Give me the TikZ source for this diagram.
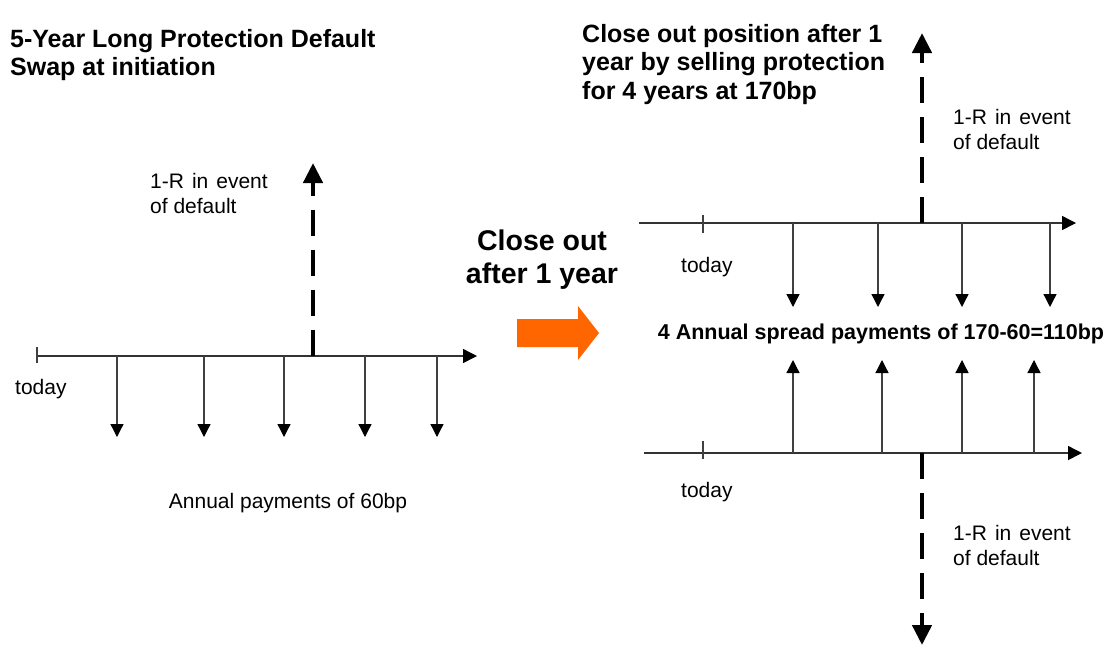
\documentclass[tikz,border=0pt]{standalone}
\usepackage{fontspec}
\setmainfont{Liberation Sans}
\usetikzlibrary{arrows.meta}
\definecolor{orangec}{HTML}{FF6600}
\begin{document}
\begin{tikzpicture}[x=1pt,y=-1pt,
  thinarrow/.style={draw=black!75, line width=1.3pt, -{Triangle[length=13pt,width=13pt,color=black]}},
  timeline/.style={draw=black!80, line width=1.5pt, -{Triangle[length=14pt,width=14pt,color=black]}},
  tickmark/.style={draw=black!75, line width=1.3pt},
  dasharrow/.style={draw=black, line width=4.5pt, dash pattern=on 26pt off 14pt, -{Triangle[length=20pt,width=19pt]}},
  lbl/.style={font=\fontsize{21}{25}\selectfont, inner sep=0pt},
  ttl/.style={font=\fontsize{25}{28.5}\selectfont\bfseries, inner sep=0pt},
  big/.style={font=\fontsize{28.5}{33}\selectfont\bfseries, inner sep=0pt},
  mid/.style={font=\fontsize{21.5}{25}\selectfont\bfseries, inner sep=0pt}
]
\useasboundingbox (0,0) rectangle (1110,657);

% ---------- left diagram ----------
\node[ttl, anchor=base west] (ltitle) at (10,47)
  {\begin{tabular}[t]{@{}l@{}}5-Year Long Protection Default\\Swap at initiation\end{tabular}};

\coordinate (lstart) at (37,356);
\coordinate (lend) at (477,356);
\coordinate (ltka) at (37,347);
\coordinate (ltkb) at (37,363);
\draw[timeline] (lstart) -- (lend);
\draw[tickmark] (ltka) -- (ltkb);
\foreach \i/\x in {1/117,2/204,3/284,4/365,5/437}{
  \coordinate (lp\i s) at (\x,356);
  \coordinate (lp\i e) at (\x,437);
  \draw[thinarrow] (lp\i s) -- (lp\i e);
}
\coordinate (ldefs) at (313,356);
\coordinate (ldefe) at (313,163);
\draw[dasharrow] (ldefs) -- (ldefe);

\node[lbl, anchor=base west] (ldef) at (150,188)
  {\begin{tabular}[t]{@{}l@{}}1-R\hspace{8pt}in\hspace{8pt}event\\of default\end{tabular}};
\node[lbl, anchor=base west] (ltoday) at (15,394) {today};
\node[lbl, anchor=base] (lpay) at (288,508) {Annual payments of 60bp};

% ---------- middle ----------
\node[big, anchor=base] (close) at (542,250)
  {\begin{tabular}[t]{@{}c@{}}Close out\\after 1 year\end{tabular}};
\fill[orangec] (517,319) -- (578,319) -- (578,306) -- (599,333) -- (578,360) -- (578,347) -- (517,347) -- cycle;

% ---------- right diagram ----------
\node[ttl, anchor=base west] (rtitle) at (582,42)
  {\begin{tabular}[t]{@{}l@{}}Close out position after 1\\year by selling protection\\for 4 years at 170bp\end{tabular}};

% top timeline
\coordinate (tstart) at (639,223);
\coordinate (tend) at (1076,223);
\coordinate (ttka) at (703,215);
\coordinate (ttkb) at (703,233);
\draw[timeline] (tstart) -- (tend);
\draw[tickmark] (ttka) -- (ttkb);
\foreach \i/\x in {1/793,2/878,3/962,4/1050}{
  \coordinate (tp\i s) at (\x,223);
  \coordinate (tp\i e) at (\x,307);
  \draw[thinarrow] (tp\i s) -- (tp\i e);
}
\coordinate (tdefs) at (922,223);
\coordinate (tdefe) at (922,33);
\draw[dasharrow] (tdefs) -- (tdefe);
\node[lbl, anchor=base west] (tdef) at (953,124)
  {\begin{tabular}[t]{@{}l@{}}1-R\hspace{8pt}in\hspace{8pt}event\\of default\end{tabular}};
\node[lbl, anchor=base west] (ttoday) at (681,272) {today};

\node[mid, anchor=base] (spread) at (881,339) {4 Annual spread payments of 170-60=110bp};

% bottom timeline
\coordinate (bstart) at (644,453);
\coordinate (bend) at (1082,453);
\coordinate (btka) at (703,441);
\coordinate (btkb) at (703,459);
\draw[timeline] (bstart) -- (bend);
\draw[tickmark] (btka) -- (btkb);
\foreach \i/\x in {1/793,2/882,3/962,4/1034}{
  \coordinate (bp\i s) at (\x,453);
  \coordinate (bp\i e) at (\x,360);
  \draw[thinarrow] (bp\i s) -- (bp\i e);
}
\coordinate (bdefs) at (922,453);
\coordinate (bdefe) at (922,645);
\draw[dasharrow] (bdefs) -- (bdefe);
\node[lbl, anchor=base west] (bdef) at (953,540)
  {\begin{tabular}[t]{@{}l@{}}1-R\hspace{8pt}in\hspace{8pt}event\\of default\end{tabular}};
\node[lbl, anchor=base west] (btoday) at (681,497) {today};
\end{tikzpicture}
\end{document}
